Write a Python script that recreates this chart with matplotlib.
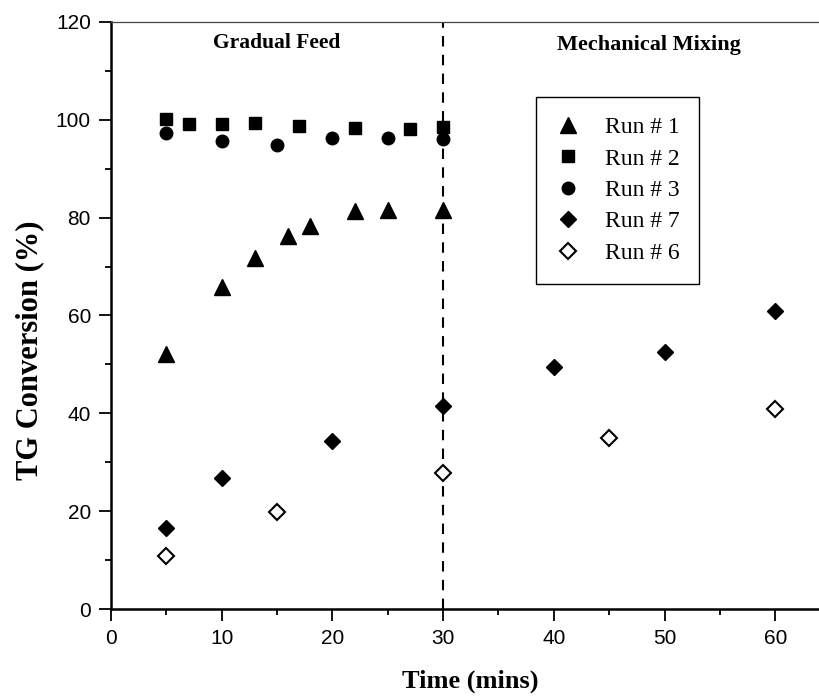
import matplotlib
matplotlib.use("Agg")
import matplotlib.pyplot as plt
from matplotlib.ticker import MultipleLocator

run1_x = [5, 10, 13, 16, 18, 22, 25, 30]
run1_y = [52.1, 65.8, 71.7, 76.2, 78.3, 81.4, 81.5, 81.5]
run2_x = [5, 7, 10, 13, 17, 22, 27, 30]
run2_y = [100.2, 99.1, 99.2, 99.4, 98.7, 98.4, 98.2, 98.6]
run3_x = [5, 10, 15, 20, 25, 30]
run3_y = [97.4, 95.7, 94.8, 96.2, 96.2, 96.0]
run7_x = [5, 10, 20, 30, 40, 50, 60]
run7_y = [16.6, 26.8, 34.3, 41.5, 49.5, 52.6, 60.9]
run6_x = [5, 15, 30, 45, 60]
run6_y = [10.9, 19.9, 27.9, 35.0, 40.9]

serif = ['Liberation Serif', 'DejaVu Serif']
sans = ['Liberation Sans', 'DejaVu Sans']

fig = plt.figure(figsize=(8.2, 6.98), dpi=100)
ax = fig.add_axes([0.1354, 0.1275, 0.864, 0.841])

ax.plot(run1_x, run1_y, linestyle='none', marker='^', color='black', markersize=11, label='Run # 1')
ax.plot(run2_x, run2_y, linestyle='none', marker='s', color='black', markersize=8, label='Run # 2')
ax.plot(run3_x, run3_y, linestyle='none', marker='o', color='black', markersize=9, label='Run # 3')
ax.plot(run7_x, run7_y, linestyle='none', marker='D', color='black', markersize=8, label='Run # 7')
ax.plot(run6_x, run6_y, linestyle='none', marker='D', markerfacecolor='white', markeredgecolor='black',
        markeredgewidth=1.5, markersize=8, label='Run # 6')

ax.axvline(30, color='black', linestyle=(0, (5, 4)), linewidth=1.5, zorder=1)

ax.set_xlim(0, 64)
ax.set_ylim(0, 120)
ax.xaxis.set_major_locator(MultipleLocator(10))
ax.xaxis.set_minor_locator(MultipleLocator(5))
ax.yaxis.set_major_locator(MultipleLocator(20))
ax.yaxis.set_minor_locator(MultipleLocator(10))
ax.tick_params(which='major', direction='out', length=8.5, width=1.3, pad=6, labelsize=15)
ax.tick_params(which='minor', direction='out', length=4.3, width=1.3)
for lbl in ax.get_xticklabels() + ax.get_yticklabels():
    lbl.set_family(sans)

ax.spines['left'].set_linewidth(1.8)
ax.spines['bottom'].set_linewidth(1.8)
ax.spines['top'].set_linewidth(0.9)
ax.spines['top'].set_color('#444444')
ax.spines['right'].set_visible(False)

ax.set_xlabel('Time (mins)', family=serif, fontweight='bold', fontsize=19)
ax.set_ylabel('TG Conversion (%)', family=serif, fontweight='bold', fontsize=22)
ax.xaxis.set_label_coords(0.507, -0.104)
ax.yaxis.set_label_coords(-0.094, 0.441)

ax.text(15.0, 115.7, 'Gradual Feed', family=serif, fontweight='bold', fontsize=15.5, ha='center', va='center')
ax.text(48.6, 115.3, 'Mechanical Mixing', family=serif, fontweight='bold', fontsize=16, ha='center', va='center')

leg = ax.legend(loc='upper left', bbox_to_anchor=(0.6, 0.873), prop={'family': serif, 'size': 17},
                frameon=True, fancybox=False, edgecolor='black', framealpha=1,
                handlelength=1.0, handletextpad=1.05, borderpad=0.85, labelspacing=0.42, borderaxespad=0)
leg.get_frame().set_linewidth(1.0)

fig.savefig('out.png', dpi=100)
